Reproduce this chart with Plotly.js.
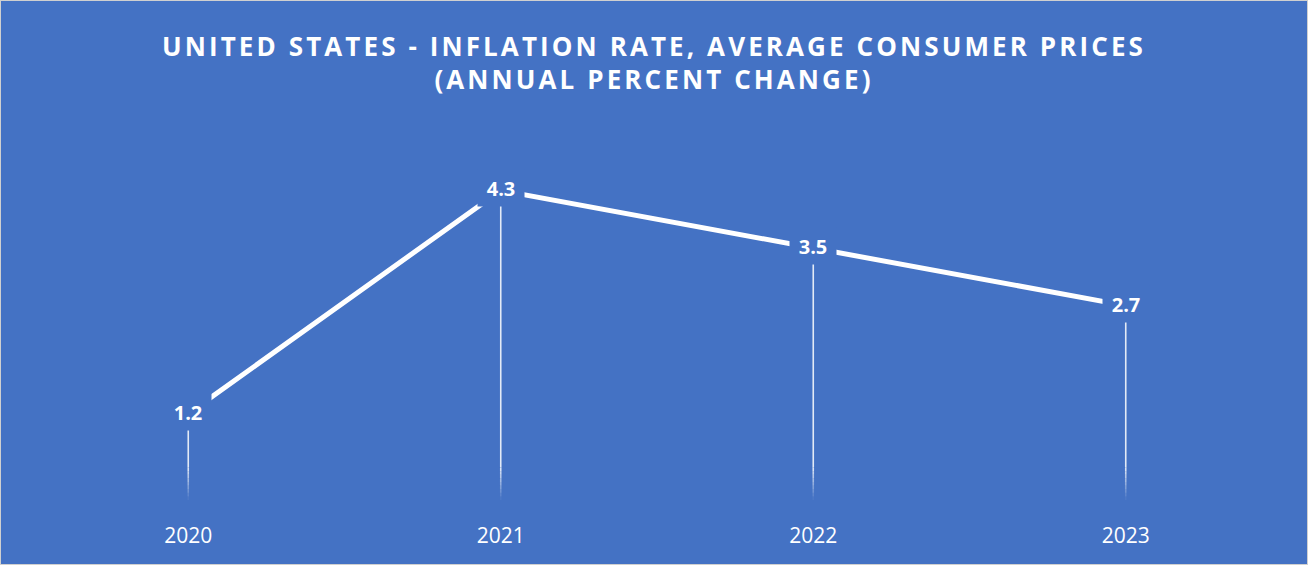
<!DOCTYPE html>
<html>
<head>
<meta charset="utf-8">
<script src="https://cdn.plot.ly/plotly-3.0.1.min.js"></script>
<style>
  html, body { margin: 0; padding: 0; background: #ffffff; }
  #wrap { width: 1306px; height: 563px; border: 1px solid #d0d0d0; }
  #chart { width: 1306px; height: 563px; }
  .gtitle { letter-spacing: 3.1px; }
</style>
</head>
<body>
<div id="wrap"><div id="chart"></div></div>
<script>
// ---- data ----
const years = ["2020", "2021", "2022", "2023"];
const inflation = [1.2, 4.3, 3.5, 2.7];
const labels = ["1.2", "4.3", "3.5", "2.7"];

const BG = "#4472C4";

// drop lines from zero to each value, fading out near the bottom
const shapes = [];
const fadeTop = 0.45, steps = 9;
years.forEach((yr, i) => {
  const v = inflation[i];
  shapes.push({
    type: "line", xref: "x", yref: "y", x0: i, x1: i, y0: fadeTop, y1: v,
    line: { color: "rgba(255,255,255,0.85)", width: 1.6 }, layer: "below"
  });
  for (let k = 0; k < steps; k++) {
    const a = fadeTop * k / steps, b = fadeTop * (k + 1) / steps;
    shapes.push({
      type: "line", xref: "x", yref: "y", x0: i, x1: i, y0: a, y1: b,
      line: { color: "rgba(255,255,255," + (0.85 * (k + 0.5) / steps).toFixed(3) + ")", width: 1.6 },
      layer: "below"
    });
  }
});

const annotations = years.map((yr, i) => ({
  x: i, y: inflation[i], xref: "x", yref: "y",
  text: labels[i], showarrow: false,
  bgcolor: BG, width: 46, height: 36, borderpad: 0,
  xanchor: "center", yanchor: "middle", yshift: 2,
  font: { family: "Open Sans", size: 20, color: "#ffffff", weight: 700 }
}));

const trace = {
  type: "scatter", mode: "lines",
  x: years, y: inflation,
  line: { color: "#ffffff", width: 5 },
  hoverinfo: "skip"
};

const layout = {
  width: 1306, height: 563,
  paper_bgcolor: BG, plot_bgcolor: BG,
  margin: { l: 31, r: 25, t: 139, b: 64 },
  showlegend: false,
  title: {
    text: "UNITED STATES - INFLATION RATE, AVERAGE CONSUMER PRICES<br>(ANNUAL PERCENT CHANGE)",
    font: { family: "Open Sans", size: 26, color: "#ffffff", weight: 700 },
    x: 0.5, xanchor: "center", y: 0.903, yanchor: "middle"
  },
  xaxis: {
    type: "category", range: [-0.5, 3.5],
    showgrid: false, zeroline: false, showline: false, ticks: "",
    tickfont: { family: "Open Sans", size: 21, color: "#ffffff" },
    ticklabelstandoff: 21, fixedrange: true
  },
  yaxis: {
    range: [0, 5], showticklabels: false, showgrid: false, zeroline: false,
    showline: false, ticks: "", fixedrange: true
  },
  shapes: shapes,
  annotations: annotations
};

Plotly.newPlot("chart", [trace], layout, { displayModeBar: false, staticPlot: true });
</script>
</body>
</html>
